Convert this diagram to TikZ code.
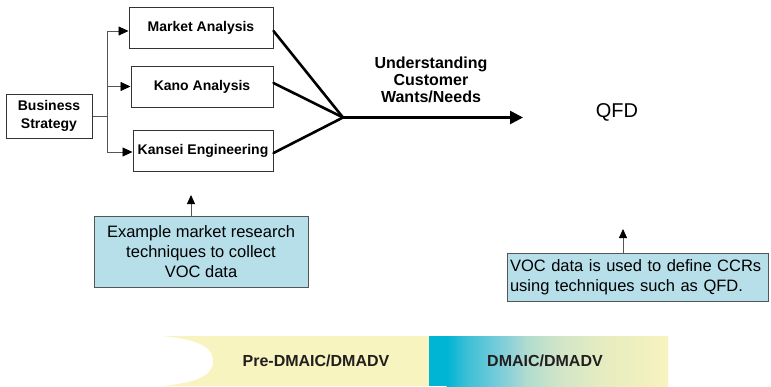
\documentclass[tikz,border=0pt]{standalone}
\usepackage{fontspec}
\setmainfont{Liberation Sans}
\usetikzlibrary{arrows.meta}
\definecolor{boxline}{HTML}{333333}
\definecolor{feedgray}{HTML}{555555}
\definecolor{noteblue}{HTML}{B7DFEA}
\definecolor{bandyellow}{HTML}{F8F4C0}
\definecolor{bandtext}{HTML}{231F20}
\definecolor{shadeA}{HTML}{00B4D4}
\definecolor{shadeB}{HTML}{3DBFD6}
\definecolor{shadeC}{HTML}{6DCAD9}
\definecolor{shadeD}{HTML}{94D3D8}
\definecolor{shadeE}{HTML}{B0DCCE}
\definecolor{shadeF}{HTML}{CFE5C8}
\definecolor{shadeG}{HTML}{E5ECC0}
\definecolor{shadeH}{HTML}{EDEFBE}

\begin{document}
\begin{tikzpicture}[x=1pt,y=-1pt,
  stepbox/.style={draw=boxline,line width=1pt,inner sep=0pt,align=center,
    font=\fontsize{14}{18}\selectfont\bfseries},
  notebox/.style={draw=feedgray,line width=0.9pt,fill=noteblue,inner sep=0pt,
    font=\fontsize{16.5}{20}\selectfont},
  feed/.style={draw=feedgray,line width=0.8pt},
  merge/.style={line width=2.6pt,line cap=round}]
\useasboundingbox (0,0) rectangle (771,386);

% strategy and the three techniques
\node[stepbox,minimum width=86pt,minimum height=44pt] (strategy) at (49,116) {Business\\Strategy};
\node[stepbox,minimum width=144pt,minimum height=41pt] (market) at (201,27.5) {Market Analysis};
\node[stepbox,minimum width=142pt,minimum height=41pt] (kano) at (202,86.5) {Kano Analysis};
\node[stepbox,minimum width=140pt,minimum height=41pt] (kansei) at (203,150.5) {Kansei Engineering};

\coordinate (fork) at (107,116);
\draw[feed] (strategy.east) -- (fork);
\draw[feed,-{Triangle[length=10pt,width=9pt,color=black]}] (fork) |- ([yshift=-3.5pt]market.west);
\draw[feed,-{Triangle[length=10pt,width=9pt,color=black]}] (fork) |- (kano.west);
\draw[feed,-{Triangle[length=10pt,width=9pt,color=black]}] (fork) |- ([yshift=-1.5pt]kansei.west);

% converging to the main arrow
\coordinate (hub) at (343,117.5);
\draw[merge] ([yshift=-3.5pt]market.east) -- (hub);
\draw[merge] ([yshift=3.5pt]kano.east) -- (hub);
\draw[merge] ([yshift=-2.5pt]kansei.east) -- (hub);
\coordinate (needsend) at (523,117.5);
\draw[line width=2.6pt,-{Triangle[length=13pt,width=13pt]}] (hub) -- (needsend);
\node[align=center,font=\fontsize{16}{17}\selectfont\bfseries] (needs) at (431,80)
  {Understanding\\Customer\\Wants/Needs};
\node[font=\fontsize{20}{24}\selectfont] (qfd) at (617,112) {QFD};

% notes
\node[notebox,minimum width=214pt,minimum height=71pt,align=center] (research) at (201,251.5)
  {Example market research\\techniques to collect\\VOC data};
\coordinate (researchtip) at (191,195);
\draw[feed,-{Triangle[length=9pt,width=8pt,color=black]}] (research.north -| researchtip) -- (researchtip);

\node[notebox,minimum width=261pt,minimum height=48pt,text width=255pt,align=left] (ccr) at (637.5,277)
  {VOC data is used to define CCRs\\using techniques such as QFD.};
\coordinate (ccrtip) at (623,229);
\draw[feed,-{Triangle[length=9pt,width=8pt,color=black]}] (ccr.north -| ccrtip) -- (ccrtip);

% phase band
\fill[bandyellow] (162,336) .. controls (205,340) and (213,350) .. (213,361)
  .. controls (213,372) and (205,382) .. (162,386) -- (668,386) -- (668,336) -- cycle;
\fill[shadeA] (429,336) rectangle (447,386);
\shade[left color=shadeA,right color=shadeB] (446.5,336) rectangle (467,386);
\shade[left color=shadeB,right color=shadeC] (466.5,336) rectangle (493,386);
\shade[left color=shadeC,right color=shadeD] (492.5,336) rectangle (513,386);
\shade[left color=shadeD,right color=shadeE] (512.5,336) rectangle (527,386);
\shade[left color=shadeE,right color=shadeF] (526.5,336) rectangle (557,386);
\shade[left color=shadeF,right color=shadeG] (556.5,336) rectangle (600,386);
\shade[left color=shadeG,right color=shadeH] (599.5,336) rectangle (633,386);
\shade[left color=shadeH,right color=bandyellow] (632.5,336) rectangle (668,386);
\node[font=\fontsize{16}{20}\selectfont\bfseries,text=bandtext] (pre) at (316,361) {Pre-DMAIC/DMADV};
\node[font=\fontsize{16}{20}\selectfont\bfseries,text=bandtext] (dmaic) at (545,361) {DMAIC/DMADV};
\end{tikzpicture}
\end{document}
